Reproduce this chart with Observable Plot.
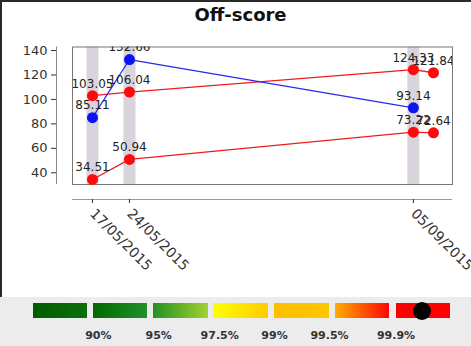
<!DOCTYPE html>
<html>
<head>
<meta charset="utf-8">
<script src="https://cdn.jsdelivr.net/npm/d3@7"></script>
<script src="https://cdn.jsdelivr.net/npm/@observablehq/plot@0.6"></script>
<style>
  body { margin: 0; background: #fff; font-family: "DejaVu Sans", sans-serif; }
  #wrap { position: relative; width: 471px; height: 346px; overflow: hidden; background: #fff; }
  #title { position: absolute; left: 0; top: 0; width: 481px; height: 30px; line-height: 30px; text-align: center; font-size: 18px; font-weight: bold; color: #111; }
  #plot { position: absolute; left: 0; top: 30px; }
  #bt { position: absolute; left: 0; top: 0; width: 471px; height: 2px; background: #2a2a2a; }
  #bl { position: absolute; left: 0; top: 0; width: 2px; height: 297px; background: #2a2a2a; }
  #legend { position: absolute; left: 0; top: 297px; width: 471px; height: 49px; background: #ececec; }
  .sw { position: absolute; top: 6px; height: 15px; width: 54.5px; }
  .lab { position: absolute; top: 31px; width: 60px; margin-left: -30px; text-align: center; font-size: 11px; font-weight: bold; color: #333; line-height: 15px; }
  #marker { position: absolute; left: 413px; top: 5px; width: 18px; height: 18px; border-radius: 50%; background: #000; }
</style>
</head>
<body>
<div id="wrap">
  <div id="title">Off-score</div>
  <div id="plot"></div>
  <div id="bt"></div>
  <div id="bl"></div>
  <div id="legend"></div>
</div>
<script>
// ---- data ----
const dateLabels = ["17/05/2015", "24/05/2015", "05/09/2015"];
const xSlots = [0, 7, 60.7, 64.5];          // positions of the observations along the x axis
const blueValues = [85.11, 132.66, 93.14];
const redUpperValues = [103.05, 106.04, 124.33, 121.84];
const redLowerValues = [34.51, 50.94, 73.22, 72.64];
const yTicks = [40, 60, 80, 100, 120, 140];
const legendLabels = ["90%", "95%", "97.5%", "99%", "99.5%", "99.9%"];
const legendGradients = [
  ["#005c00", "#0b6f0b"],
  ["#006800", "#24902a"],
  ["#249024", "#a2d230"],
  ["#ffff00", "#ffcb00"],
  ["#ffbe00", "#ffc600"],
  ["#ffae00", "#ff0500"],
  ["#ff0000", "#ff0000"]
];

const toRows = (vals, series) => vals.map((v, i) => ({x: xSlots[i], y: v, series, label: v.toFixed(2)}));
const blue = toRows(blueValues, "blue");
const redU = toRows(redUpperValues, "redU");
const redL = toRows(redLowerValues, "redL");

const xDomain = [-3.78, 68.1];
const yDomain = [30.4, 142.9];

const chart = Plot.plot({
  width: 471,
  height: 267,
  marginTop: 16.5,
  marginBottom: 113,
  marginLeft: 72,
  marginRight: 19,
  style: {fontFamily: "DejaVu Sans, sans-serif", background: "transparent"},
  x: {type: "linear", domain: xDomain},
  y: {domain: yDomain},
  marks: [
    Plot.ruleX(xSlots.slice(0, 3), {stroke: "#d9d4dc", strokeWidth: 12}),
    Plot.frame({stroke: "#777"}),
    Plot.ruleX([xDomain[0]], {dx: -16, stroke: "#888"}),
    Plot.axisY({ticks: yTicks, dx: -16, tickSize: 5, tickPadding: 4, fontSize: 13, color: "#333", label: null}),
    Plot.ruleY([yDomain[0]], {dy: 15, stroke: "#999"}),
    Plot.axisX({
      ticks: xSlots.slice(0, 3),
      tickFormat: d => dateLabels[xSlots.indexOf(d)],
      dy: 15, tickRotate: 45, tickSize: 4, fontSize: 14, color: "#333", label: null
    }),
    Plot.line(redL, {x: "x", y: "y", stroke: "#ee1c1c", strokeWidth: 1.3}),
    Plot.line(redU, {x: "x", y: "y", stroke: "#ee1c1c", strokeWidth: 1.3}),
    Plot.line(blue, {x: "x", y: "y", stroke: "#2a2af0", strokeWidth: 1.3}),
    Plot.dot(redL, {x: "x", y: "y", r: 5.5, fill: "#ff0a0a"}),
    Plot.dot(redU, {x: "x", y: "y", r: 5.5, fill: "#ff0a0a"}),
    Plot.dot(blue, {x: "x", y: "y", r: 5.5, fill: "#0a14f5"}),
    Plot.text([...redL, ...redU, ...blue], {x: "x", y: "y", text: "label", dy: -12, fontSize: 12, fill: "#222", clip: true})
  ]
});
document.getElementById("plot").appendChild(chart);

// legend
const legend = document.getElementById("legend");
const swLeft = [32.7, 92.8, 153.2, 213.4, 274.2, 334.8, 395.6];
legendGradients.forEach((g, i) => {
  const d = document.createElement("div");
  d.className = "sw";
  d.style.left = swLeft[i] + "px";
  d.style.background = `linear-gradient(to right, ${g[0]}, ${g[1]})`;
  legend.appendChild(d);
});
const mk = document.createElement("div");
mk.id = "marker";
legend.appendChild(mk);
const labCenters = [98.3, 158.7, 219.7, 274.5, 329.5, 396];
legendLabels.forEach((t, i) => {
  const d = document.createElement("div");
  d.className = "lab";
  d.style.left = labCenters[i] + "px";
  d.textContent = t;
  legend.appendChild(d);
});
</script>
</body>
</html>
